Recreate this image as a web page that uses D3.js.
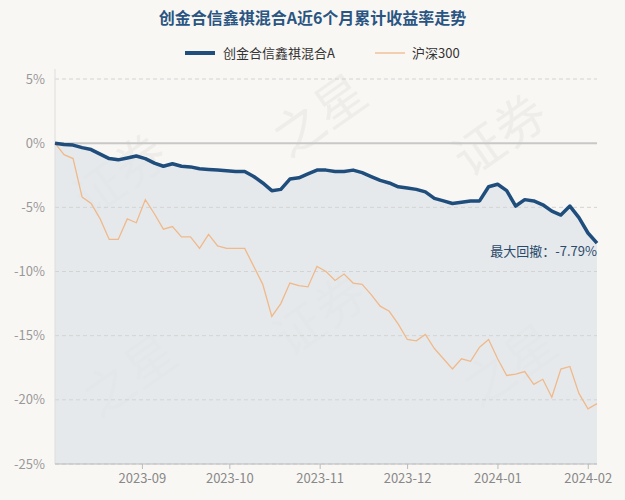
<!DOCTYPE html>
<html>
<head>
<meta charset="utf-8">
<script src="https://d3js.org/d3.v7.min.js"></script>
<style>
  body { margin: 0; background: #f9f7f4; font-family: "Noto Sans CJK SC", "Noto Sans", sans-serif; }
</style>
</head>
<body>
<div id="chart"></div>
<script>
// values in %, sampled every ~3 days from 2023-08-02 to 2024-02-04
var fundName = "创金合信鑫祺混合A";
var benchName = "沪深300";
var fund = [0, -0.1, -0.15, -0.35, -0.5, -0.85, -1.2, -1.3, -1.15, -1.0, -1.2, -1.55, -1.8, -1.6, -1.8, -1.85,
  -2.0, -2.05, -2.1, -2.15, -2.2, -2.2, -2.6, -3.1, -3.7, -3.6, -2.8, -2.7, -2.4, -2.1, -2.1, -2.2, -2.2,
  -2.1, -2.3, -2.6, -2.9, -3.1, -3.4, -3.5, -3.6, -3.8, -4.3, -4.5, -4.7, -4.6, -4.5, -4.5, -3.4, -3.2,
  -3.7, -4.9, -4.4, -4.5, -4.8, -5.3, -5.6, -4.9, -5.8, -7.0, -7.79];
var bench = [0, -0.9, -1.2, -4.2, -4.7, -5.9, -7.5, -7.5, -5.9, -6.2, -4.4, -5.5, -6.7, -6.5, -7.3, -7.3,
  -8.2, -7.1, -8.0, -8.2, -8.2, -8.2, -9.6, -11.0, -13.5, -12.5, -10.9, -11.1, -11.2, -9.6, -10.0, -10.7,
  -10.2, -10.9, -11.0, -11.8, -12.7, -13.1, -14.1, -15.3, -15.4, -14.9, -16.0, -16.8, -17.6, -16.8, -17.0,
  -15.9, -15.3, -16.8, -18.1, -18.0, -17.8, -18.8, -18.4, -19.8, -17.6, -17.4, -19.5, -20.7, -20.3];
var yTicks = [5, 0, -5, -10, -15, -20, -25];
var xTicks = ["2023-09-01", "2023-10-01", "2023-11-01", "2023-12-01", "2024-01-01", "2024-02-01"];
var startDate = new Date(2023, 7, 2), endDate = new Date(2024, 1, 4);

var W = 625, H = 500;
var m = {left: 55, right: 28, top: 79, bottom: 36};
var svg = d3.select("#chart").append("svg").attr("width", W).attr("height", H);
svg.append("rect").attr("width", W).attr("height", H).attr("fill", "#f9f7f4");

var x = d3.scaleTime().domain([startDate, endDate]).range([m.left, W - m.right]);
var y = d3.scaleLinear().domain([5, -25]).range([m.top, H - m.bottom]);
var dates = fund.map(function(d, i) { return new Date(+startDate + i * (endDate - startDate) / (fund.length - 1)); });

// watermark
[[130, 190], [330, 130], [510, 150], [140, 390], [330, 330], [520, 380]].forEach(function(p, i) {
  svg.append("text").attr("transform", "translate(" + p[0] + "," + p[1] + ") rotate(-35)")
    .attr("text-anchor", "middle").attr("font-size", 50).attr("fill", "#000").attr("opacity", 0.035)
    .text(i % 2 ? "之星" : "证券");
});

// area under fund
svg.append("path").datum(fund)
  .attr("fill", "#dfe4e9").attr("opacity", 0.75)
  .attr("d", d3.area().x(function(d, i) { return x(dates[i]); }).y0(H - m.bottom).y1(function(d) { return y(d); }));

// grid
yTicks.forEach(function(t) {
  svg.append("line").attr("x1", m.left).attr("x2", W - m.right).attr("y1", y(t)).attr("y2", y(t))
    .attr("stroke", t === 0 ? "#c8c8c8" : "#d3d3d3").attr("stroke-width", t === 0 ? 2 : 1)
    .attr("stroke-dasharray", t === 0 ? null : "4,3");
  svg.append("text").attr("x", m.left - 10).attr("y", y(t)).attr("dy", "0.35em").attr("text-anchor", "end")
    .attr("font-size", 13).attr("fill", "#999").text(t + "%");
});
svg.append("line").attr("x1", m.left).attr("x2", m.left).attr("y1", m.top - 10).attr("y2", H - m.bottom)
  .attr("stroke", "#ddd");

// x axis
svg.append("line").attr("x1", m.left).attr("x2", W - m.right).attr("y1", H - m.bottom).attr("y2", H - m.bottom)
  .attr("stroke", "#bbb");
xTicks.forEach(function(s) {
  var d = d3.timeParse("%Y-%m-%d")(s), xp = x(d);
  svg.append("line").attr("x1", xp).attr("x2", xp).attr("y1", H - m.bottom).attr("y2", H - m.bottom + 5).attr("stroke", "#bbb");
  svg.append("text").attr("x", xp).attr("y", H - m.bottom + 19).attr("text-anchor", "middle")
    .attr("font-size", 13).attr("fill", "#888").text(s.slice(0, 7));
});

var line = d3.line().x(function(d, i) { return x(dates[i]); }).y(function(d) { return y(d); });
svg.append("path").datum(bench).attr("fill", "none").attr("stroke", "#f0b98a").attr("stroke-width", 1.3).attr("d", line);
svg.append("path").datum(fund).attr("fill", "none").attr("stroke", "#1f4e7d").attr("stroke-width", 3.5)
  .attr("stroke-linejoin", "round").attr("d", line);

// drawdown label
svg.append("text").attr("x", W - m.right).attr("y", y(fund[fund.length - 1]) + 13).attr("text-anchor", "end")
  .attr("font-size", 13).attr("fill", "#2a4a6b").text("最大回撤：" + fund[fund.length - 1] + "%");

// title
svg.append("text").attr("x", W / 2).attr("y", 24).attr("text-anchor", "middle").attr("font-size", 16)
  .attr("font-weight", "bold").attr("fill", "#2a5582").text(fundName + "近6个月累计收益率走势");

// legend
svg.append("line").attr("x1", 185).attr("x2", 215).attr("y1", 53).attr("y2", 53).attr("stroke", "#1f4e7d").attr("stroke-width", 4);
svg.append("text").attr("x", 223).attr("y", 53).attr("dy", "0.35em").attr("font-size", 13).attr("fill", "#333").text(fundName);
svg.append("line").attr("x1", 375).attr("x2", 405).attr("y1", 53).attr("y2", 53).attr("stroke", "#f0b98a").attr("stroke-width", 1.3);
svg.append("text").attr("x", 412).attr("y", 53).attr("dy", "0.35em").attr("font-size", 13).attr("fill", "#333").text(benchName);
</script>
</body>
</html>
